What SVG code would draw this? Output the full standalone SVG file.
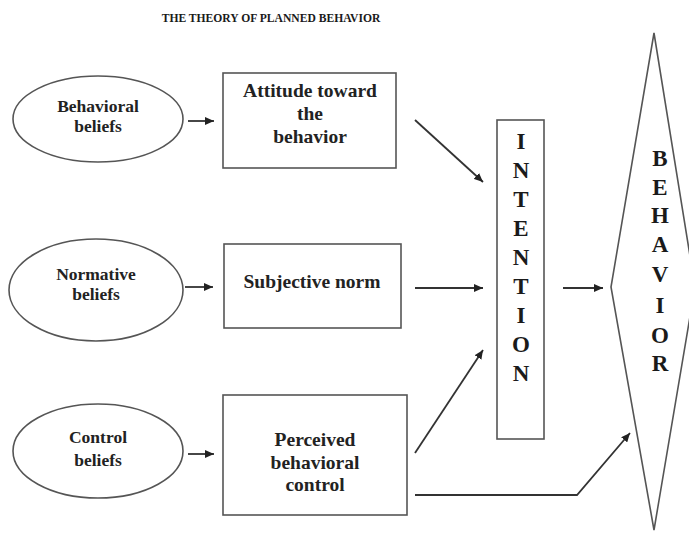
<svg xmlns="http://www.w3.org/2000/svg" width="689" height="542" viewBox="0 0 689 542">
<style>
  .shape { fill: #ffffff; stroke: #555555; stroke-width: 1.6; }
  .title { font-family: "Liberation Serif", serif; font-weight: bold; font-size: 11.6px; fill: #1a1a1a; text-anchor: middle; }
  .el { font-family: "Liberation Serif", serif; font-weight: bold; font-size: 17.5px; fill: #222222; text-anchor: middle; }
  .bx { font-family: "Liberation Serif", serif; font-weight: bold; font-size: 19.5px; fill: #222222; text-anchor: middle; }
  .big { font-family: "Liberation Serif", serif; font-weight: bold; font-size: 23px; fill: #1a1a1a; text-anchor: middle; }
  .conn { fill: none; stroke: #333333; stroke-width: 1.8; marker-end: url(#arrow); }
</style>
<defs>
  <marker id="arrow" markerUnits="userSpaceOnUse" markerWidth="10" markerHeight="8" refX="9" refY="4" orient="auto">
    <path d="M0,0 L9,4 L0,8 Z" fill="#222222"/>
  </marker>
</defs>
<rect width="689" height="542" fill="#ffffff"/>
<text class="title" x="271" y="22">THE THEORY OF PLANNED BEHAVIOR</text>

<g id="behavioral-beliefs">
  <ellipse class="shape" cx="98" cy="119" rx="85" ry="43"/>
  <text class="el" x="98" y="112">Behavioral</text>
  <text class="el" x="98" y="132">beliefs</text>
</g>
<g id="normative-beliefs">
  <ellipse class="shape" cx="96" cy="290" rx="87" ry="51"/>
  <text class="el" x="96" y="280">Normative</text>
  <text class="el" x="96" y="300">beliefs</text>
</g>
<g id="control-beliefs">
  <ellipse class="shape" cx="98" cy="451" rx="85" ry="47"/>
  <text class="el" x="98" y="443">Control</text>
  <text class="el" x="98" y="466">beliefs</text>
</g>

<g id="attitude">
  <rect class="shape" x="223" y="73" width="173" height="95"/>
  <text class="bx" x="310" y="97">Attitude toward</text>
  <text class="bx" x="310" y="120">the</text>
  <text class="bx" x="310" y="143">behavior</text>
</g>
<g id="subjective-norm">
  <rect class="shape" x="224" y="244" width="177" height="84"/>
  <text class="bx" x="312" y="288">Subjective norm</text>
</g>
<g id="perceived-control">
  <rect class="shape" x="223" y="395" width="184" height="120"/>
  <text class="bx" x="315" y="446">Perceived</text>
  <text class="bx" x="315" y="469">behavioral</text>
  <text class="bx" x="315" y="491">control</text>
</g>

<g id="intention">
  <rect class="shape" x="497" y="120" width="47" height="319"/>
  <text class="big" x="521" y="149">I</text>
  <text class="big" x="521" y="178">N</text>
  <text class="big" x="521" y="207">T</text>
  <text class="big" x="521" y="236">E</text>
  <text class="big" x="521" y="265">N</text>
  <text class="big" x="521" y="294">T</text>
  <text class="big" x="521" y="323">I</text>
  <text class="big" x="521" y="352">O</text>
  <text class="big" x="521" y="381">N</text>
</g>

<g id="behavior">
  <polygon class="shape" points="654,33 611,287 654,530 695,287"/>
  <text class="big" x="660" y="166">B</text>
  <text class="big" x="660" y="195">E</text>
  <text class="big" x="660" y="223">H</text>
  <text class="big" x="660" y="252">A</text>
  <text class="big" x="660" y="282">V</text>
  <text class="big" x="660" y="313">I</text>
  <text class="big" x="660" y="343">O</text>
  <text class="big" x="660" y="371">R</text>
</g>

<g id="connectors">
  <line class="conn" x1="188" y1="121" x2="214" y2="121"/>
  <line class="conn" x1="185" y1="287" x2="213" y2="287"/>
  <line class="conn" x1="188" y1="454" x2="214" y2="454"/>
  <line class="conn" x1="415" y1="120" x2="483" y2="182"/>
  <line class="conn" x1="415" y1="288" x2="483" y2="288"/>
  <line class="conn" x1="415" y1="453" x2="483" y2="350"/>
  <line class="conn" x1="563" y1="288" x2="603" y2="288"/>
  <polyline class="conn" points="415,495 577,495 630,433"/>
</g>
</svg>
